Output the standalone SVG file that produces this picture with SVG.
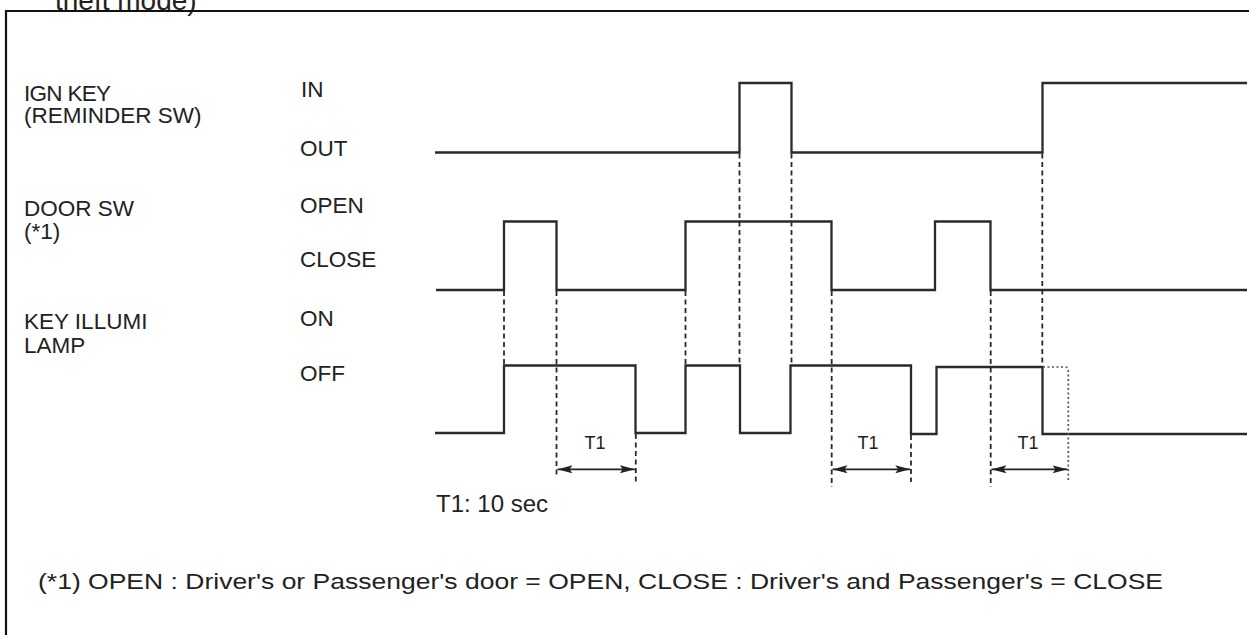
<svg xmlns="http://www.w3.org/2000/svg" width="1249" height="635" viewBox="0 0 1249 635">
<style>
  text { font-family: "Liberation Sans", Arial, sans-serif; fill: #222; }
  .lbl { font-size: 22.5px; }
  .t1 { font-size: 18px; text-anchor: middle; }
  .wave { fill: none; stroke: #2a2a2a; stroke-width: 2.3; stroke-linejoin: miter; }
  .dash { fill: none; stroke: #2a2a2a; stroke-width: 1.8; stroke-dasharray: 5 3.5; }
  .dot { fill: none; stroke: #555; stroke-width: 1.7; stroke-dasharray: 2 2.5; }
  .arrow { fill: none; stroke: #222; stroke-width: 1.7; marker-start: url(#ah); marker-end: url(#ah); }
</style>
<defs>
  <marker id="ah" viewBox="0 0 15 8" refX="15" refY="4" markerWidth="15" markerHeight="8" markerUnits="userSpaceOnUse" orient="auto-start-reverse">
    <path d="M0,0 L15,4 L0,8 L3,4 Z" fill="#222"/>
  </marker>
</defs>
<rect width="1249" height="635" fill="#fff"/>
<text x="55" y="10" style="font-size:28px">theft mode)</text>
<path d="M6,635 V11 H1249" fill="none" stroke="#111" stroke-width="2.2"/>

<g id="ign-key">
  <text class="lbl" x="24" y="101" textLength="87" lengthAdjust="spacing">IGN KEY</text>
  <text class="lbl" x="24" y="123">(REMINDER SW)</text>
  <text class="lbl" x="301" y="97">IN</text>
  <text class="lbl" x="300" y="156">OUT</text>
  <path class="wave" d="M435,152.5 H739.5 V83 H791.5 V152.5 H1042.5 V83 H1247"/>
</g>

<g id="door-sw">
  <text class="lbl" x="24" y="216">DOOR SW</text>
  <text class="lbl" x="24" y="239">(*1)</text>
  <text class="lbl" x="300" y="213">OPEN</text>
  <text class="lbl" x="300" y="267">CLOSE</text>
  <path class="wave" d="M436,290 H504 V221.5 H556.5 V290 H685.5 V221.5 H831.5 V290 H935 V221.5 H990.5 V290 H1247"/>
</g>

<g id="key-illumi-lamp">
  <text class="lbl" x="24" y="329">KEY ILLUMI</text>
  <text class="lbl" x="24" y="353">LAMP</text>
  <text class="lbl" x="300" y="326">ON</text>
  <text class="lbl" x="300" y="381">OFF</text>
  <path class="wave" d="M435,433 H504 V365.5 H635.5 V433 H685.5 V365.5 H740 V433 H790.5 V365.5 H911 V434 H936.5 V367 H1042.5 V434 H1247"/>
</g>

<g id="connectors">
  <path class="dash" d="M504,291 V365"/>
  <path class="dash" d="M556.5,291 V478"/>
  <path class="dash" d="M635.8,434 V482"/>
  <path class="dash" d="M685.5,291 V365"/>
  <path class="dash" d="M739.5,153.5 V365"/>
  <path class="dash" d="M791.5,153.5 V365"/>
  <path class="dash" d="M831.7,291 V487"/>
  <path class="dash" d="M911,435 V482"/>
  <path class="dash" d="M990.7,291 V487"/>
  <path class="dash" d="M1042.3,153.5 V367"/>
  <path class="dot" d="M1043,367 H1065 Q1068.3,367 1068.3,370 V482"/>
  <path class="arrow" d="M557.5,469.3 H634.8"/>
  <path class="arrow" d="M832.5,469.3 H910.2"/>
  <path class="arrow" d="M991.5,469.3 H1067.5"/>
</g>

<g id="timing">
  <text class="t1" x="595" y="449">T1</text>
  <text class="t1" x="868" y="449">T1</text>
  <text class="t1" x="1028" y="449">T1</text>
  <text x="436" y="512" style="font-size:24px">T1: 10 sec</text>
</g>

<g id="footnote">
  <text class="lbl" x="38" y="589" textLength="1125" lengthAdjust="spacingAndGlyphs">(*1) OPEN : Driver's or Passenger's door = OPEN, CLOSE : Driver's and Passenger's = CLOSE</text>
</g>
</svg>
